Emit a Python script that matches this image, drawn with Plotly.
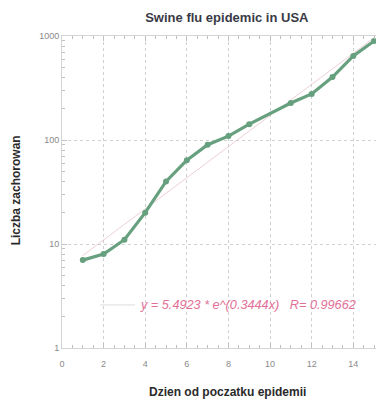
import math
import plotly.graph_objects as go

days = [1, 2, 3, 4, 5, 6, 7, 8, 9, 11, 12, 13, 14, 15]
cases = [7, 8, 11, 20, 40, 64, 90, 109, 142, 227, 277, 403, 644, 896]
fit_a = 5.4923
fit_b = 0.3444
fit_r = 0.99662
fit_x = [1, 15]

fit_y = [fit_a * math.exp(fit_b * x) for x in fit_x]

green = "rgb(102,160,126)"
pink = "rgb(226,112,150)"
font = "Liberation Sans, Arial"

fig = go.Figure()
fig.add_trace(go.Scatter(x=fit_x, y=fit_y, mode="lines",
                         line=dict(color="rgba(220,170,180,0.7)", width=0.8),
                         showlegend=False, hoverinfo="skip"))
fig.add_trace(go.Scatter(x=days, y=cases, mode="lines+markers",
                         line=dict(color=green, width=3.2),
                         marker=dict(color=green, size=6),
                         showlegend=False))

axis_common = dict(
    showline=True, linecolor="#d4d4d4", linewidth=1,
    ticks="inside", ticklen=5, tickcolor="#c0c0c0",
    mirror="allticks", automargin=False,
    gridcolor="#d0d0d0", griddash="dot", gridwidth=1,
    tickfont=dict(family=font, size=9, color="#8a8a8a"),
    zeroline=False,
)

fig.update_layout(
    width=376, height=392,
    margin=dict(l=54, r=2, t=28, b=52),
    paper_bgcolor="white", plot_bgcolor="white",
    title=dict(text="<b>Swine flu epidemic in USA</b>", x=0.582, xanchor="center",
               y=0.977, yanchor="middle",
               font=dict(family=font, size=13, color="#3a3a45")),
    xaxis=dict(range=[0, 15.38], tickvals=[0, 2, 4, 6, 8, 10, 12, 14],
               ticklabelstandoff=7,
               minor=dict(dtick=0.5, tick0=0, ticks="inside", ticklen=3, tickcolor="#c0c0c0", showgrid=False),
               **axis_common),
    yaxis=dict(type="log", range=[0, 3], tickvals=[1, 10, 100, 1000],
               ticktext=["1", "10", "100", "1000"],
               minor=dict(dtick="D1", ticks="inside", ticklen=3, tickcolor="#c0c0c0", showgrid=False),
               **axis_common),
)

fig.add_annotation(xref="paper", yref="paper", x=0.516, y=-0.142, xanchor="center", yanchor="middle",
                   text="<b>Dzien od poczatku epidemii</b>", showarrow=False,
                   font=dict(family=font, size=12, color="#2a2a2a"))
fig.add_annotation(xref="paper", yref="paper", x=-0.143, y=0.506, xanchor="center", yanchor="middle",
                   text="<b>Liczba zachorowan</b>", textangle=-90, showarrow=False,
                   font=dict(family=font, size=12, color="#2a2a2a"))

fig.add_shape(type="line", xref="paper", yref="paper", x0=0.119, x1=0.228, y0=0.138, y1=0.138,
              line=dict(color="#dddddd", width=1))
fig.add_annotation(xref="paper", yref="paper", x=0.2375, y=0.138, xanchor="left", yanchor="middle",
                   text=f"<i>y = {fit_a} * e^({fit_b}x)   R= {fit_r}</i>", showarrow=False,
                   font=dict(family=font, size=12.7, color=pink))

fig.write_html("out.html")
